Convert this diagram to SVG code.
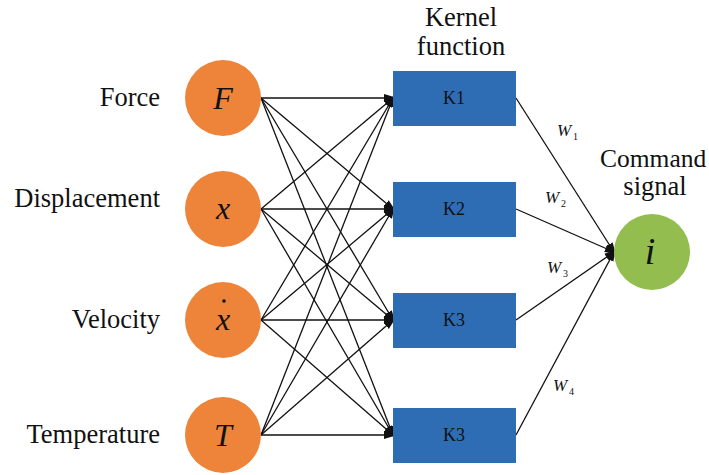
<svg xmlns="http://www.w3.org/2000/svg" width="709" height="475" viewBox="0 0 709 475">
<style>
.lbl{font-family:"Liberation Serif","Times New Roman","DejaVu Serif",serif;font-size:26.5px;fill:#111}
.in{fill:#ED843A}
.k{fill:#2E6DB4}
.kt{font-family:"Liberation Serif","Times New Roman",serif;font-size:18px;fill:#111;text-anchor:middle}
.m{font-family:"Liberation Serif","Times New Roman",serif;font-style:italic;font-size:32px;fill:#111;text-anchor:middle}
.w{font-family:"Liberation Serif","Times New Roman",serif;font-style:italic;font-size:17px;fill:#111}
.ws{font-family:"Liberation Serif","Times New Roman",serif;font-size:10px;fill:#111}
.c line{stroke:#111;stroke-width:1.3;marker-end:url(#a)}
</style>
<defs>
<marker id="a" viewBox="0 0 10 10" refX="9" refY="5" markerWidth="10" markerHeight="10" markerUnits="userSpaceOnUse" orient="auto">
<path d="M0,1 L10,4 L10,6 L0,9 z" fill="#111"/>
</marker>
</defs>
<g id="connectors" class="c">
<line x1="261" y1="98" x2="393" y2="98"/>
<line x1="261" y1="98" x2="393" y2="209"/>
<line x1="261" y1="98" x2="393" y2="320"/>
<line x1="261" y1="98" x2="393" y2="435"/>
<line x1="261" y1="209" x2="393" y2="98"/>
<line x1="261" y1="209" x2="393" y2="209"/>
<line x1="261" y1="209" x2="393" y2="320"/>
<line x1="261" y1="209" x2="393" y2="435"/>
<line x1="261" y1="320" x2="393" y2="98"/>
<line x1="261" y1="320" x2="393" y2="209"/>
<line x1="261" y1="320" x2="393" y2="320"/>
<line x1="261" y1="320" x2="393" y2="435"/>
<line x1="261" y1="435" x2="393" y2="98"/>
<line x1="261" y1="435" x2="393" y2="209"/>
<line x1="261" y1="435" x2="393" y2="320"/>
<line x1="261" y1="435" x2="393" y2="435"/>
<line x1="516" y1="98" x2="614" y2="252"/>
<line x1="516" y1="209" x2="614" y2="252"/>
<line x1="516" y1="320" x2="614" y2="252"/>
<line x1="516" y1="435" x2="614" y2="252"/>
</g>
<g id="in-force"><text class="lbl" x="160" y="106" text-anchor="end">Force</text><circle class="in" cx="223" cy="98" r="38"/><text class="m" x="223" y="109">F</text></g>
<g id="in-displacement"><text class="lbl" x="160" y="207" text-anchor="end">Displacement</text><circle class="in" cx="223" cy="209" r="38"/><text class="m" x="223" y="219">x</text></g>
<g id="in-velocity"><text class="lbl" x="160" y="328" text-anchor="end">Velocity</text><circle class="in" cx="223" cy="320" r="38"/><text class="m" x="223" y="330">x</text><circle cx="224" cy="301" r="1.8" fill="#111"/></g>
<g id="in-temperature"><text class="lbl" x="160" y="443" text-anchor="end">Temperature</text><circle class="in" cx="223" cy="435" r="38"/><text class="m" x="223" y="446">T</text></g>
<g id="kernel-title"><text class="lbl" x="461" y="26" text-anchor="middle">Kernel</text><text class="lbl" x="461" y="55" text-anchor="middle">function</text></g>
<g id="k1"><rect class="k" x="393" y="71" width="123" height="55"/><text class="kt" x="454" y="104">K1</text></g>
<g id="k2"><rect class="k" x="393" y="182" width="123" height="55"/><text class="kt" x="454" y="215">K2</text></g>
<g id="k3a"><rect class="k" x="393" y="293" width="123" height="55"/><text class="kt" x="454" y="326">K3</text></g>
<g id="k3b"><rect class="k" x="393" y="408" width="123" height="55"/><text class="kt" x="454" y="441">K3</text></g>
<g id="out"><text class="lbl" x="600" y="167" style="font-size:25.5px">Command</text><text class="lbl" x="655" y="195" text-anchor="middle">signal</text><circle cx="652" cy="252" r="38" fill="#93BE4F"/><text class="m" x="650" y="264" style="font-size:38px">i</text></g>
<g id="weights">
<text class="w" x="557" y="136">W</text><text class="ws" x="573" y="140">1</text>
<text class="w" x="545" y="203">W</text><text class="ws" x="561" y="207">2</text>
<text class="w" x="547" y="273">W</text><text class="ws" x="563" y="277">3</text>
<text class="w" x="553" y="391">W</text><text class="ws" x="569" y="395">4</text>
</g>
</svg>
